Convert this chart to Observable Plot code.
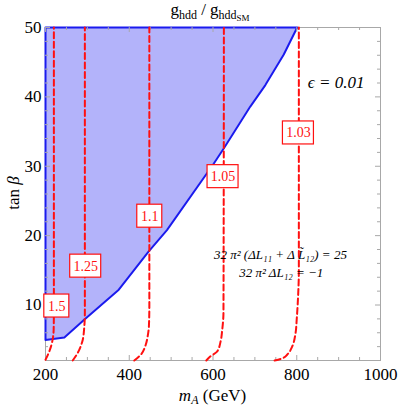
<!DOCTYPE html>
<html><head><meta charset="utf-8">
<script src="https://cdn.jsdelivr.net/npm/d3@7"></script>
<script src="https://cdn.jsdelivr.net/npm/@observablehq/plot@0.6"></script>
<style>
body{margin:0;background:#fff}
svg{display:block}
#chart svg, #chart svg text, #chart svg tspan { font-family: "Liberation Serif", "DejaVu Serif", serif !important; }
</style>
</head><body><div id="chart"></div>
<script>
// ---- data ----
const xMajor = [200, 400, 600, 800, 1000];
const xMinor = [250, 300, 350, 450, 500, 550, 650, 700, 750, 850, 900, 950];
const yMajor = [10, 20, 30, 40, 50];
const yMinor = [2, 4, 6, 8, 12, 14, 16, 18, 22, 24, 26, 28, 32, 34, 36, 38, 42, 44, 46, 48];

// allowed region boundary (mA, tanβ)
const regionM = [200, 245, 291, 375, 446, 490, 602, 626, 689, 725, 769, 801];
const regionT = [4.95, 5.3, 7.8, 12.2, 17.7, 20.8, 30.4, 32.6, 38.6, 41.7, 46.1, 50];

// contour lines of g_hdd / g_hdd_SM
const levels = ["1.5", "1.25", "1.1", "1.05", "1.03"];
const c150M = [200, 207, 213, 217, 219.5, 220, 220];
const c150T = [2.1, 3, 4, 5, 6.5, 9, 50];
const c125M = [265, 276, 285, 289, 292, 294, 294];
const c125T = [2, 3, 4.2, 5, 6.4, 9, 50];
const c110M = [412, 427, 439, 444, 447, 448, 448];
const c110T = [2, 2.8, 4.2, 5.5, 7, 10, 50];
const c105M = [584, 594, 610, 618, 622, 625, 626];
const c105T = [2, 2.6, 3.3, 4.7, 6.4, 9, 50];
const c103M = [747, 765, 778, 789, 797, 800, 803, 805, 805];
const c103T = [2, 2.3, 2.9, 4, 5.9, 8, 11, 15, 50];

// contour label positions
const labelM = [227, 296, 449, 624, 804];
const labelT = [9.85, 15.6, 22.8, 28.5, 34.8];

// annotations
const epsText = ["ϵ = 0.01"];
const epsM = [894];
const epsT = [42];
const noteText = ["32 π² (ΔL₁₁ + Δ L̃₁₂) = 25", "32 π² ΔL₁₂ = −1"];
const noteM = [761, 763];
const noteT = [17.3, 14.6];

// ---- build tables ----
const region = regionM.map((m, i) => ({m, t: regionT[i]}));
const outline = [{m: 200, t: 50}, ...region, {m: 200, t: 50}];
const cm = [c150M, c125M, c110M, c105M, c103M];
const ct = [c150T, c125T, c110T, c105T, c103T];
const contours = levels.flatMap((lv, k) => cm[k].map((m, i) => ({level: lv, m, t: ct[k][i]})));
const labels = levels.map((lv, i) => ({level: lv, m: labelM[i], t: labelT[i]}));
const eps = epsText.map((s, i) => ({s, m: epsM[i], t: epsT[i]}));
const notes = noteText.map((s, i) => ({s, m: noteM[i], t: noteT[i]}));

const W = 399, H = 407, mL = 45, mR = 19, mT = 27, mB = 47;
const fw = W - mL - mR, fh = H - mT - mB;
const serif = "Liberation Serif, DejaVu Serif, serif";
const gray = "#a8a8a8";
const red = "#ff1010";

const plot = Plot.plot({
  width: W, height: H,
  marginLeft: mL, marginRight: mR, marginTop: mT, marginBottom: mB,
  x: {domain: [200, 1000]},
  y: {domain: [2, 50]},
  style: {fontFamily: serif, background: "white", color: "black", overflow: "visible"},
  marks: [
    Plot.areaX(region, {y: "t", x1: 200, x2: "m", fill: "#b3b3fa"}),
    Plot.frame({stroke: gray}),
    Plot.line(outline, {x: "m", y: "t", stroke: "#1a1aee", strokeWidth: 2}),
    Plot.tickX(xMajor, {x: d => d, insetTop: fh - 5, stroke: gray}),
    Plot.tickX(xMajor, {x: d => d, insetBottom: fh - 5, stroke: gray}),
    Plot.tickX(xMinor, {x: d => d, insetTop: fh - 3, stroke: gray}),
    Plot.tickX(xMinor, {x: d => d, insetBottom: fh - 3, stroke: gray}),
    Plot.tickY(yMajor, {y: d => d, insetRight: fw - 5, stroke: gray}),
    Plot.tickY(yMajor, {y: d => d, insetLeft: fw - 5, stroke: gray}),
    Plot.tickY(yMinor, {y: d => d, insetRight: fw - 3, stroke: gray}),
    Plot.tickY(yMinor, {y: d => d, insetLeft: fw - 3, stroke: gray}),
    Plot.line(contours, {x: "m", y: "t", z: "level", stroke: red, strokeWidth: 2, strokeDasharray: "6,3.5", curve: "monotone-y"}),
    Plot.rect(labels.filter(d => d.level.length === 3), {x1: "m", x2: "m", y1: "t", y2: "t", insetLeft: -12.5, insetRight: -12.5, insetTop: -11.5, insetBottom: -11.5, fill: "white", stroke: red, strokeWidth: 1.2}),
    Plot.rect(labels.filter(d => d.level.length === 4), {x1: "m", x2: "m", y1: "t", y2: "t", insetLeft: -15.5, insetRight: -15.5, insetTop: -11.5, insetBottom: -11.5, fill: "white", stroke: red, strokeWidth: 1.2}),
    Plot.text(labels, {x: "m", y: "t", text: "level", fill: red, fontSize: 14}),
    Plot.text(eps, {x: "m", y: "t", text: "s", fontSize: 17, fontStyle: "italic", fill: "black"}),
    Plot.text(notes, {x: "m", y: "t", text: "s", fontSize: 13, fontStyle: "italic", fill: "black"}),
    Plot.axisX(xMajor, {tickSize: 0, tickPadding: 7, fontSize: 17, label: null, tickFormat: d => String(d)}),
    Plot.axisY(yMajor, {tickSize: 0, tickPadding: 4, fontSize: 17, label: null, tickFormat: d => String(d)})
  ]
});

const svg = d3.select(plot);
// title
const t = svg.append("text").attr("x", 210).attr("y", 15).attr("text-anchor", "middle")
  .attr("font-size", 17).attr("fill", "black");
t.append("tspan").text("g");
t.append("tspan").attr("font-size", 12).attr("dy", 3.5).text("hdd");
t.append("tspan").attr("dy", -3.5).text(" / g");
t.append("tspan").attr("font-size", 12).attr("dy", 3.5).text("hdd");
t.append("tspan").attr("font-size", 9).attr("dy", 2).text("SM");
// x label
const xl = svg.append("text").attr("x", 212.5).attr("y", 401).attr("text-anchor", "middle")
  .attr("font-size", 17).attr("fill", "black");
xl.append("tspan").attr("font-style", "italic").text("m");
xl.append("tspan").attr("font-style", "italic").attr("font-size", 12).attr("dy", 3).text("A");
xl.append("tspan").attr("dy", -3).text(" (GeV)");
// y label
const yl = svg.append("text").attr("transform", "translate(19,193) rotate(-90)").attr("text-anchor", "middle")
  .attr("font-size", 17).attr("fill", "black");
yl.append("tspan").text("tan ");
yl.append("tspan").attr("font-style", "italic").text("β");

document.getElementById("chart").appendChild(plot);
</script>
</body></html>
